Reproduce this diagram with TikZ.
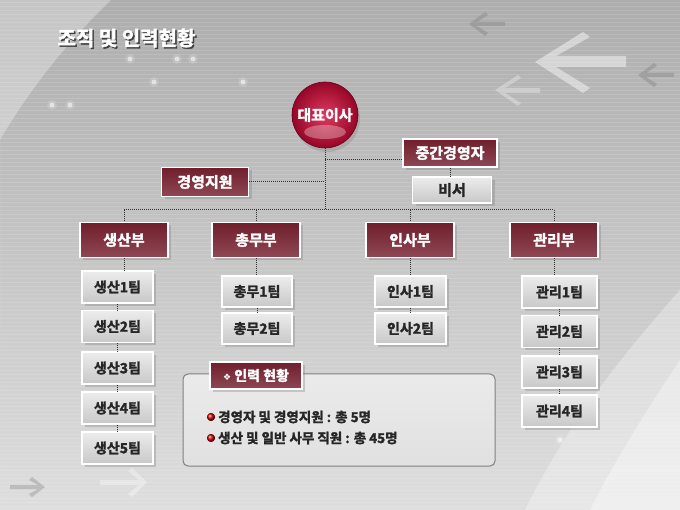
\documentclass[tikz,border=0pt]{standalone}
\usepackage{fontspec}
\setmainfont{Noto Sans CJK KR}[BoldFont={Noto Sans CJK KR Bold},BoldFeatures={FakeBold=2}]
\newfontfamily\symfont{DejaVu Sans}
\usetikzlibrary{shadows,positioning}

\definecolor{deptTop}{RGB}{112,30,44}
\definecolor{deptBot}{RGB}{142,72,84}
\definecolor{teamTop}{RGB}{236,236,236}
\definecolor{teamBot}{RGB}{200,200,200}
\definecolor{ceoIn}{RGB}{220,60,95}
\definecolor{ceoOut}{RGB}{150,6,40}
\definecolor{linkgray}{RGB}{50,50,50}

\begin{document}
\begin{tikzpicture}[x=1pt,y=-1pt,
  dept/.style={draw=white,line width=1.4pt,top color=deptTop,bottom color=deptBot,
     text=white,font=\bfseries\fontsize{15}{15}\selectfont,inner sep=0pt,
     drop shadow={shadow xshift=3pt,shadow yshift=-3pt,opacity=.35}},
  team/.style={draw=white,line width=1.4pt,top color=teamTop,bottom color=teamBot,
     text=black!85,font=\bfseries\fontsize{14}{14}\selectfont,inner sep=0pt,
     drop shadow={shadow xshift=3pt,shadow yshift=-3pt,opacity=.35}},
  link/.style={linkgray,line width=1pt,dash pattern=on 1pt off 1pt},
  deco/.style={white,opacity=.45}]

\useasboundingbox (0,0) rectangle (680,510);

%----------fond------------
\fill[top color=black!32,bottom color=black!13] (0,0) rectangle (680,510);
\fill[white,opacity=.3,even odd rule] (0,0) rectangle (680,510) (560,470) circle (650);
\fill[white,opacity=.3] (680,290) .. controls (600,380) and (560,440) .. (525,510) -- (680,510) -- cycle;
\fill[white,opacity=.35] (680,360) .. controls (640,420) and (610,470) .. (590,510) -- (680,510) -- cycle;
\foreach \y in {2,6,...,510}
  \draw[white,opacity=.12,line width=.8pt] (0,\y) -- (680,\y);

% fleches decoratives
\fill[deco] (535,62) -- (583,32) -- (590,37) -- (556,56) -- (626,56) -- (626,67) -- (556,67) -- (590,88) -- (583,93) -- cycle;
\fill[deco,opacity=.3] (495,90) -- (518,75) -- (521,78) -- (505,88) -- (540,88) -- (540,93) -- (505,93) -- (521,103) -- (518,106) -- cycle;
\fill[black!45,opacity=.5] (469,24) -- (485,12) -- (488,15) -- (477,22) -- (505,22) -- (505,26) -- (477,26) -- (488,33) -- (485,36) -- cycle;
\fill[black!45,opacity=.5] (638,75) -- (654,63) -- (657,66) -- (646,73) -- (674,73) -- (674,77) -- (646,77) -- (657,84) -- (654,87) -- cycle;
\fill[black!45,opacity=.4] (45,487) -- (32,477) -- (29,480) -- (38,485) -- (10,485) -- (10,489) -- (38,489) -- (29,494) -- (32,497) -- cycle;
\fill[deco,opacity=.35] (147,482) -- (132,468) -- (128,471) -- (139,480) -- (100,480) -- (100,485) -- (139,485) -- (128,494) -- (132,497) -- cycle;
\foreach \p in {(177,59),(130,59),(193,59),(154,82),(243,82),(70,105),(52,105),(492,424),(560,440)}{
  \fill[white,opacity=.15] \p circle (5);
  \fill[white,opacity=.55] \p circle (2.5);
}

%----------titre------------
\node[anchor=west,font=\bfseries\fontsize{20}{20}\selectfont,text=black!75] at (55.5,39.5) {조직 및 인력현황};
\node[anchor=west,font=\bfseries\fontsize{20}{20}\selectfont,text=white] (title) at (54,38) {조직 및 인력현황};

%----------direction------------
\node[circle,minimum size=66,inner sep=0pt,draw=ceoOut!70!black,line width=.6pt,
      inner color=ceoIn,outer color=ceoOut,
      drop shadow={shadow xshift=2pt,shadow yshift=-4pt,opacity=.3}] (ceo) at (325,115) {};
\fill[white,opacity=.3] (325,132) ellipse (21 and 7);
\node[text=white,font=\bfseries\fontsize{15}{15}\selectfont] at (ceo) {대표이사};

\node[dept,minimum width=94,minimum height=28] (mid) at (450,153) {중간경영자};
\node[team,minimum width=79,minimum height=26,font=\bfseries\fontsize{15}{15}\selectfont] (sec) at (452,190) {비서};
\node[dept,minimum width=87,minimum height=29] (sup) at (205,182) {경영지원};

%----------departements------------
\coordinate (bus) at (325,210);
\foreach \name/\x/\txt in {d1/124/생산부,d2/256/총무부,d3/410/인사부,d4/554/관리부}
  \node[dept,minimum width=88,minimum height=35] (\name) at (\x,240) {\txt};

% equipes
\foreach \y [count=\i] in {287,326.5,368,408,448}
  \node[team,minimum width=71,minimum height=32] (a\i) at (117.5,\y) {생산{\i}팀};
\foreach \y [count=\i] in {291.5,328.5}
  \node[team,minimum width=70,minimum height=31] (b\i) at (257,\y) {총무{\i}팀};
\foreach \y [count=\i] in {291.5,328.5}
  \node[team,minimum width=71,minimum height=31] (c\i) at (410.5,\y) {인사{\i}팀};
\foreach \y [count=\i] in {292,331.5,372,411}
  \node[team,minimum width=75,minimum height=32] (e\i) at (559.5,\y) {관리{\i}팀};

%----------liaisons------------
\draw[link] (ceo.south) -- (bus);
\draw[link] ([yshift=-7pt]mid.west) -- ([yshift=-7pt]mid.west -| ceo.south);
\draw[link] (sup.east) -- (sup.east -| ceo.south);
\draw[link] (mid.south) -- (mid.south |- sec.north);
\draw[link] (d1.north |- bus) -- (d4.north |- bus);
\foreach \d in {d1,d2,d3,d4}
  \draw[link] (\d.north |- bus) -- (\d.north);
\draw[link] (d1.south) -- (d1.south |- a1.north);
\draw[link] (d2.south) -- (d2.south |- b1.north);
\draw[link] (d3.south) -- (d3.south |- c1.north);
\draw[link] (d4.south) -- (d4.south |- e1.north);
\foreach \u/\v in {a1/a2,a2/a3,a3/a4,a4/a5,b1/b2,c1/c2,e1/e2,e2/e3,e3/e4}
  \draw[link] (\u.south) -- (\v.north);

%----------effectifs------------
\draw[black!50,line width=1pt,rounded corners=5pt,top color=white!92!black,bottom color=black!12]
  (183,374) rectangle (495,466);
\node[dept,minimum width=92,minimum height=27,font=\bfseries\fontsize{14}{14}\selectfont] (staff) at (256,375.5) {{\symfont\fontsize{9}{9}\selectfont ❖} 인력 현황};
\foreach \y/\txt in {417/경영자 및 경영지원 : 총 5명,438/생산 및 일반 사무 직원 : 총 45명}{
  \fill[ball color=red!80!black] (211,\y) circle (4);
  \node[anchor=west,inner sep=0pt,text=black!85,font=\bfseries\fontsize{13.5}{13.5}\selectfont] at (218,\y) {\txt};
}

\end{tikzpicture}
\end{document}
